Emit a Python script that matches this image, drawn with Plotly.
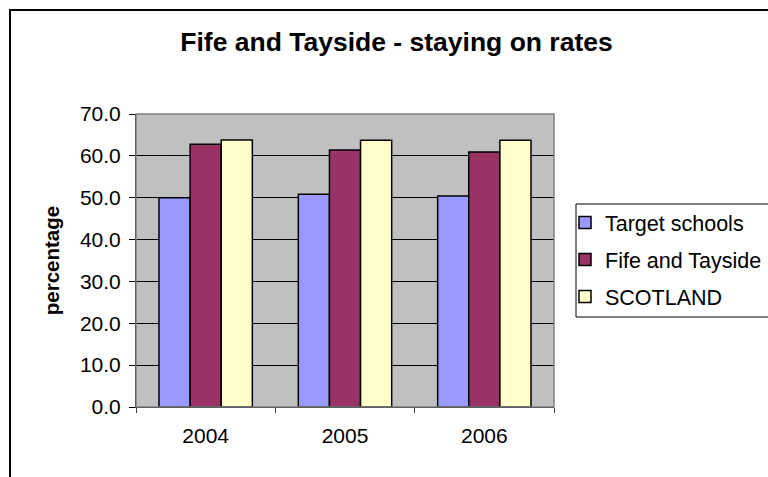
import plotly.graph_objects as go

years = ["2004", "2005", "2006"]
target_schools = [50.0, 50.8, 50.4]
fife_tayside = [62.8, 61.4, 60.9]
scotland = [63.8, 63.7, 63.7]
series_names = ["Target schools", "Fife and Tayside", "SCOTLAND"]
colors = ["#9999FF", "#993366", "#FFFFCC"]

fig = go.Figure()
for i, (name, vals, col) in enumerate(zip(series_names, [target_schools, fife_tayside, scotland], colors)):
    fig.add_trace(go.Bar(
        x=years, y=vals, name=name, legendgroup=f"g{i}",
        marker=dict(color=col, line=dict(color="black", width=1.5)),
    ))

L, R, T, B = 136, 214, 114, 70
W, H = 768, 477
pw, ph = W - L - R, H - T - B

def px(xp):
    return (xp - L) / pw

def py(yp):
    return (H - B - yp) / ph

fig.update_layout(
    width=W, height=H,
    margin=dict(l=L, r=R, t=T, b=B, autoexpand=False),
    paper_bgcolor="white",
    plot_bgcolor="#C0C0C0",
    barmode="group",
    bargap=0.33,
    bargroupgap=0,
    font=dict(family="Liberation Sans, Arial, sans-serif", color="black", size=21),
    title=dict(text="<b>Fife and Tayside - staying on rates</b>", x=396.5 / W, xanchor="center",
               y=1 - 42 / H, yanchor="middle", font=dict(size=26.5)),
    legend=dict(
        x=px(565), y=py(202), xanchor="left", yanchor="top",
        borderwidth=0, bgcolor="rgba(0,0,0,0)",
        font=dict(size=21.5), tracegroupgap=6, traceorder="grouped",
    ),
    xaxis=dict(
        type="category", tickson="boundaries", ticks="outside", ticklen=5,
        tickcolor="#404040", showline=True, linecolor="black", linewidth=1,
        showgrid=False, tickfont=dict(size=21), ticklabelstandoff=10,
    ),
    yaxis=dict(
        range=[0, 70], dtick=10, tickformat=".1f", ticks="outside", ticklen=6,
        tickcolor="black", showline=True, linecolor="black", linewidth=1,
        showgrid=True, gridcolor="black", gridwidth=1, zeroline=False,
        tickfont=dict(size=21), ticklabelstandoff=4,
        title=dict(text="<b>percentage</b>", font=dict(size=20.5), standoff=14),
    ),
    shapes=[
        dict(type="rect", xref="paper", yref="paper", x0=0, x1=1, y0=0, y1=1,
             line=dict(color="#808080", width=1.5), layer="above"),
        dict(type="rect", xref="paper", yref="paper", x0=px(10), x1=px(790), y0=py(500), y1=py(10),
             line=dict(color="black", width=2)),
        dict(type="rect", xref="paper", yref="paper", x0=px(576), x1=px(775), y0=py(317), y1=py(204),
             line=dict(color="black", width=1)),
    ],
)

fig.write_html("out.html")
